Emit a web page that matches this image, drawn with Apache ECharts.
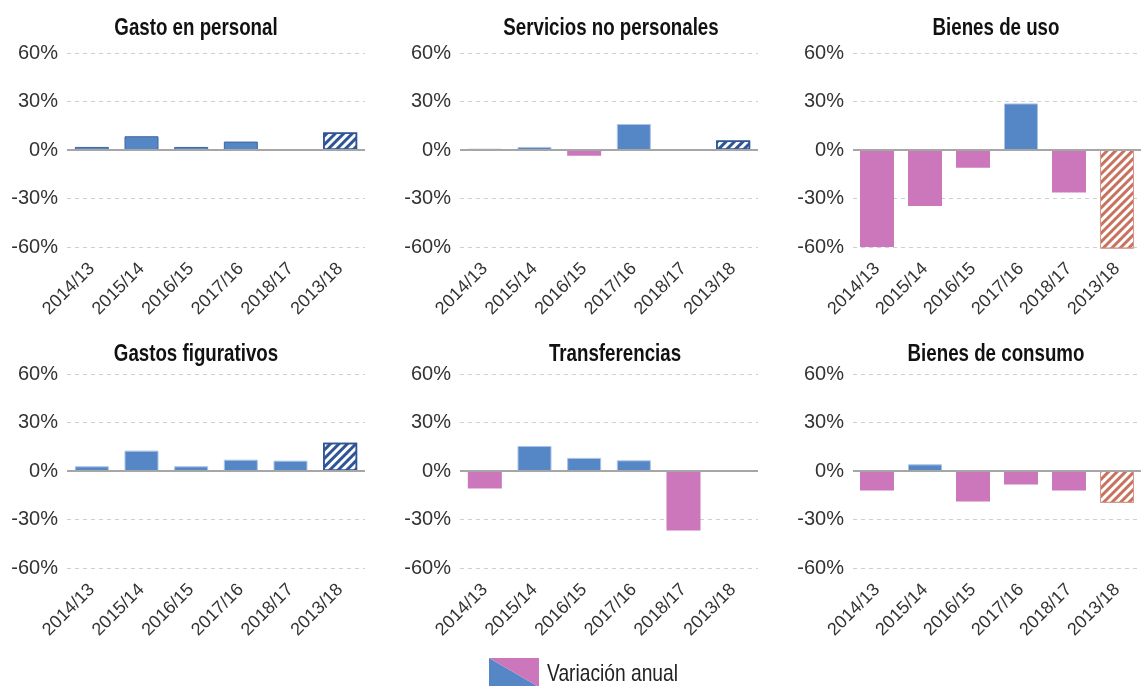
<!DOCTYPE html>
<html>
<head>
<meta charset="utf-8">
<title>Variación anual por objeto del gasto</title>
<script src="https://cdn.jsdelivr.net/npm/echarts@6/dist/echarts.min.js"></script>
<style>
  html, body { margin: 0; padding: 0; background: #fff; }
  #main { width: 1141px; height: 686px; }
</style>
</head>
<body>
<div id="main"></div>
<script>
// categorías del eje x (la última es la variación acumulada, rayada)
const categorias = ['2014/13', '2015/14', '2016/15', '2017/16', '2018/17', '2013/18'];
const ticksY = [-60, -30, 0, 30, 60];

// variación anual (%) por panel
const gastoPersonal = [1.9, 8.5, 1.9, 5.2, 0.6, 10.8];
const serviciosNoPersonales = [0.8, 1.9, -3.5, 16.1, 0, 5.8];
const bienesUso = [-60, -34.6, -11, 28.8, -26.3, -61];
const gastosFigurativos = [2.9, 12.6, 2.9, 7.0, 6.4, 17.4];
const transferencias = [-10.8, 15.5, 8.1, 6.6, -36.8, 0];
const bienesConsumo = [-12, 4.1, -18.8, -8.3, -12, -19.7];

const titulos = ['Gasto en personal', 'Servicios no personales', 'Bienes de uso',
                 'Gastos figurativos', 'Transferencias', 'Bienes de consumo'];
const paneles = [gastoPersonal, serviciosNoPersonales, bienesUso,
                 gastosFigurativos, transferencias, bienesConsumo];

const AZUL = '#5587c6';
const ROSA = '#cc77bb';
const AZUL_RAYA = '#2f5597';
const ROJO_RAYA = '#c8735f';

// posiciones de cada panel
const izq = [67, 460, 853];
const arriba = [53, 374];
const centroTitulo = [[196, 611, 996], [196, 615, 996]];
const yTitulo = [28, 354];

let myChart = echarts.init(document.getElementById('main'));

let grids = [], xAxes = [], yAxes = [], series = [], graficos = [];

for (let i = 0; i < paneles.length; i++) {
    let fila = Math.floor(i / 3), col = i % 3;
    grids.push({left: izq[col], top: arriba[fila], width: 298, height: 194});
    // título estrecho (fuente condensada simulada con scaleX)
    graficos.push({
        type: 'text',
        x: centroTitulo[fila][col],
        y: yTitulo[fila],
        scaleX: 0.78,
        style: {text: titulos[i], font: 'bold 24px "Liberation Sans"', fill: '#111',
                textAlign: 'center', textVerticalAlign: 'middle'}
    });
    xAxes.push({
        type: 'category',
        gridIndex: i,
        data: categorias,
        axisLine: {show: false},
        axisTick: {show: false},
        axisLabel: {interval: 0, rotate: 45, margin: 19, fontSize: 18,
                    fontFamily: 'Liberation Sans', color: '#333'}
    });
    yAxes.push({
        type: 'value',
        gridIndex: i,
        min: ticksY[0],
        max: ticksY[ticksY.length - 1],
        interval: 30,
        axisLine: {show: false},
        axisTick: {show: false},
        axisLabel: {formatter: '{value}%', fontSize: 20, margin: 9,
                    fontFamily: 'Liberation Sans', color: '#333'},
        splitLine: {lineStyle: {color: '#cfcfcf', type: [4, 4], width: 1}}
    });

    let datos = paneles[i].map(function (v, k) {
        let ultimo = k === categorias.length - 1;
        if (ultimo) {
            let c = v >= 0 ? AZUL_RAYA : ROJO_RAYA;
            return {
                value: v,
                itemStyle: {
                    color: '#fff',
                    borderColor: v >= 0 ? AZUL_RAYA : '#d9968a',
                    borderWidth: v >= 0 ? 1.5 : 1,
                    decal: {
                        symbol: 'rect', symbolSize: 1, color: c,
                        dashArrayX: [1, 0], dashArrayY: v >= 0 ? [3, 3] : [2.5, 3],
                        rotation: -Math.PI / 4
                    }
                }
            };
        }
        return {
            value: v,
            itemStyle: {
                color: v >= 0 ? AZUL : ROSA,
                borderColor: v >= 0 ? (i === 0 ? '#3e659e' : '#a9c3e6') : ROSA,
                borderWidth: v >= 0 ? 1 : 0
            }
        };
    });

    series.push({
        type: 'bar',
        xAxisIndex: i,
        yAxisIndex: i,
        data: datos,
        barWidth: 34,
        clip: false,
        markLine: {
            silent: true,
            symbol: 'none',
            label: {show: false},
            lineStyle: {color: '#a6a6a6', type: 'solid', width: 2},
            data: [{yAxis: 0}]
        }
    });
}

// leyenda: rectángulo partido en diagonal (azul / rosa)
graficos.push(
    {type: 'polygon', shape: {points: [[489, 658], [489, 687], [539, 687]]}, style: {fill: AZUL}},
    {type: 'polygon', shape: {points: [[489, 658], [539, 658], [539, 687]]}, style: {fill: ROSA}},
    {type: 'text', x: 547, y: 674, scaleX: 0.8,
     style: {text: 'Variación anual', font: '24px "Liberation Sans"', fill: '#222',
             textAlign: 'left', textVerticalAlign: 'middle'}}
);

let option = {
    animation: false,
    backgroundColor: '#fff',
    grid: grids,
    xAxis: xAxes,
    yAxis: yAxes,
    series: series,
    graphic: graficos
};

myChart.setOption(option);
</script>
</body>
</html>
